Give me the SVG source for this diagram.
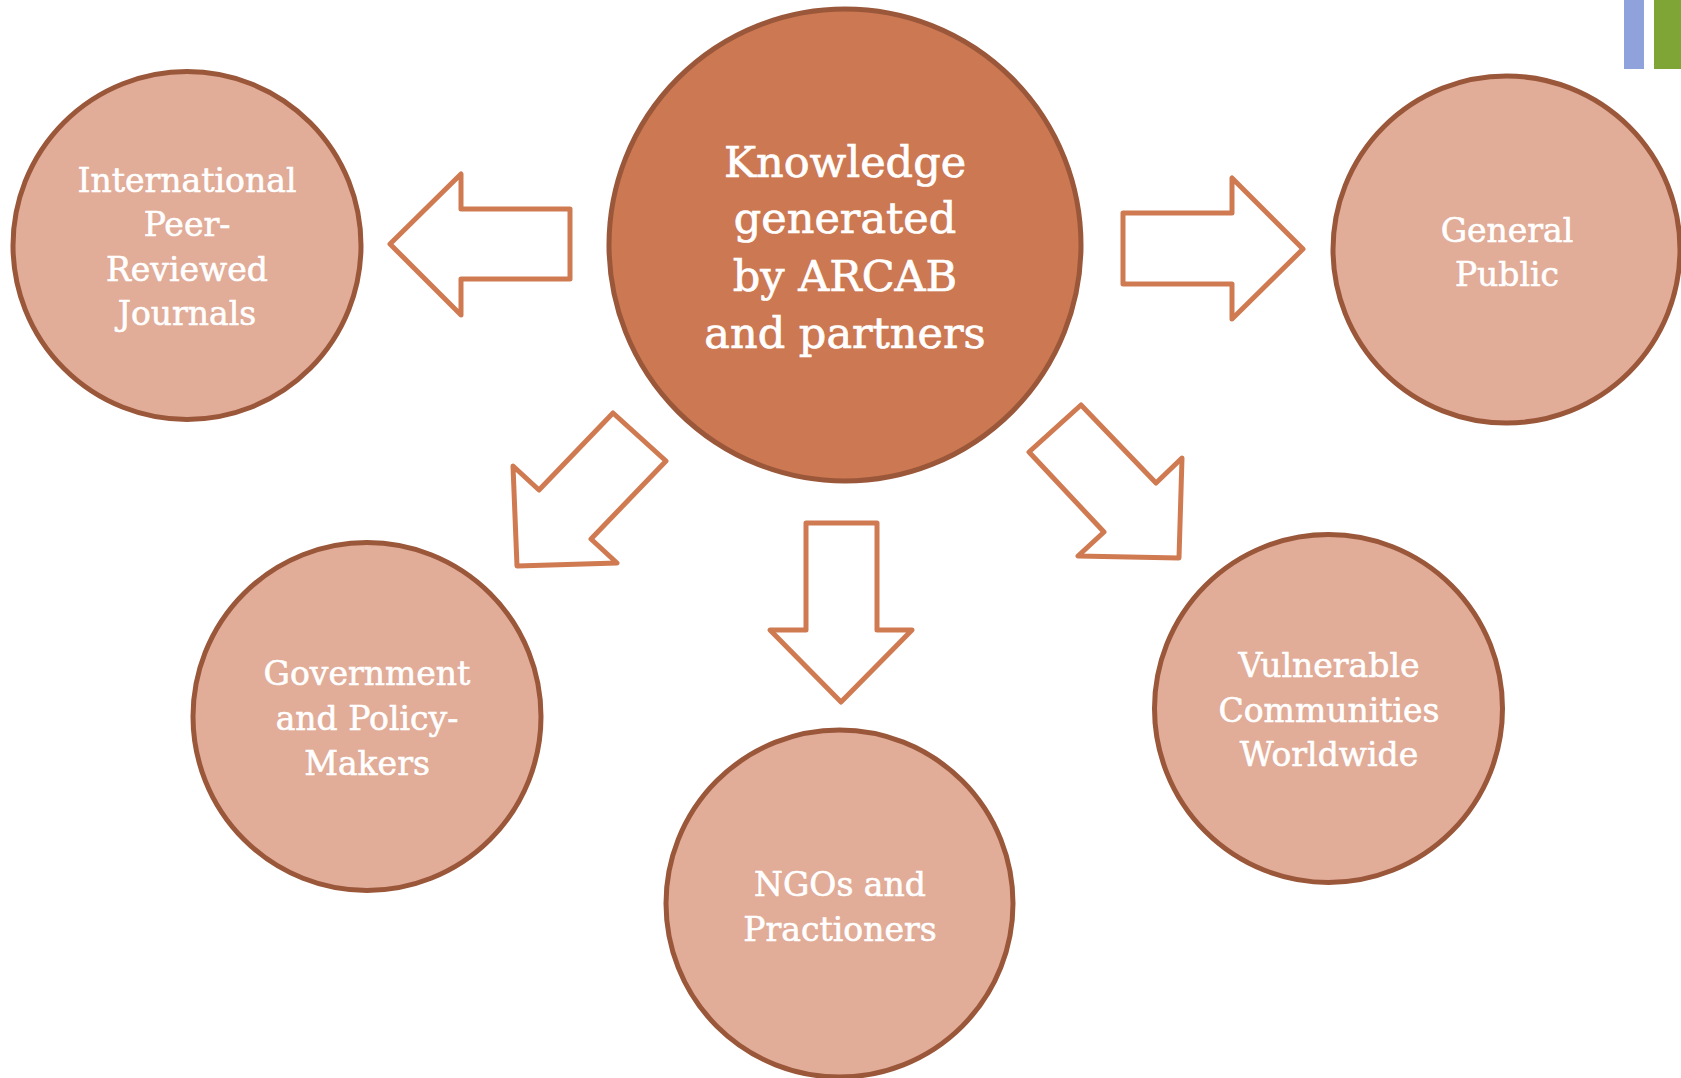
<svg xmlns="http://www.w3.org/2000/svg" width="1681" height="1078" viewBox="0 0 1681 1078">
<style>
.outer{fill:#E1AC98;stroke:#9A573A;stroke-width:5}
.center{fill:#CC7852;stroke:#9A573A;stroke-width:5}
.arrow{fill:#FFFFFF;stroke:#D07A52;stroke-width:5;stroke-linejoin:round}
.t{font-family:"DejaVu Serif","Liberation Serif",serif;fill:#FFFFFF;stroke:#FFFFFF;stroke-width:0.6;text-anchor:middle;font-size:33px}
.tc{font-family:"DejaVu Serif","Liberation Serif",serif;fill:#FFFFFF;stroke:#FFFFFF;stroke-width:0.7;text-anchor:middle;font-size:43px}
</style>
<rect width="1681" height="1078" fill="#FFFFFF"/>
<rect x="1624" y="0" width="20" height="69" fill="#8FA2DB"/>
<rect x="1654" y="0" width="27" height="69" fill="#7FA537"/>
<g id="connectors">
<polygon class="arrow" points="390,244 461,174 461,209 570,209 570,279 461,279 461,315"/>
<polygon class="arrow" points="1303,249 1232,178 1232,213 1123,213 1123,284 1232,284 1232,319"/>
<polygon class="arrow" points="613,413 666,461 591,539 617,563 517,566 513,466 539,490"/>
<polygon class="arrow" points="806,523 877,523 877,630 912,630 841,702 770,630 806,630"/>
<polygon class="arrow" points="1081,405 1029,452 1104,532 1078,556 1179,558 1182,458 1156,483"/>
</g>
<g id="node-center">
<circle class="center" cx="845" cy="245" r="236"/>
<text class="tc" x="845" y="177">Knowledge</text>
<text class="tc" x="845" y="233">generated</text>
<text class="tc" x="845" y="291">by ARCAB</text>
<text class="tc" x="845" y="348">and partners</text>
</g>
<g id="node-journals">
<circle class="outer" cx="187" cy="245.5" r="174"/>
<text class="t" x="187" y="192">International</text>
<text class="t" x="187" y="236">Peer-</text>
<text class="t" x="187" y="281">Reviewed</text>
<text class="t" x="187" y="325">Journals</text>
</g>
<g id="node-public">
<circle class="outer" cx="1506.5" cy="249.5" r="173.5"/>
<text class="t" x="1507" y="242">General</text>
<text class="t" x="1507" y="286">Public</text>
</g>
<g id="node-government">
<circle class="outer" cx="367" cy="716.5" r="174"/>
<text class="t" x="367" y="685">Government</text>
<text class="t" x="367" y="730">and Policy-</text>
<text class="t" x="367" y="775">Makers</text>
</g>
<g id="node-ngos">
<circle class="outer" cx="839.5" cy="903.5" r="173.5"/>
<text class="t" x="840" y="896">NGOs and</text>
<text class="t" x="840" y="941">Practioners</text>
</g>
<g id="node-vulnerable">
<circle class="outer" cx="1328.5" cy="708.5" r="174"/>
<text class="t" x="1329" y="677">Vulnerable</text>
<text class="t" x="1329" y="722">Communities</text>
<text class="t" x="1329" y="766">Worldwide</text>
</g>
</svg>
